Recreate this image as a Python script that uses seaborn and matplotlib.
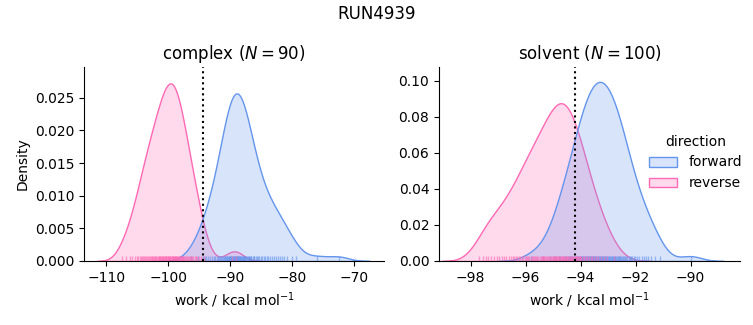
import numpy as np
import pandas as pd
import matplotlib
matplotlib.use("Agg")
import matplotlib.pyplot as plt
import seaborn as sns

complex_forward = [
    -96.4, -95.2,
    -94.4, -94.1, -93.9, -93.6,
    -93.35, -93.0, -92.65,
    -92.4, -92.2, -92.0, -91.8, -91.6,
    -91.45, -91.3, -91.2, -91.05, -90.9, -90.8, -90.65, -90.55,
    -90.45, -90.36, -90.27, -90.18, -90.09, -90.0, -89.91, -89.82, -89.73, -89.64, -89.55,
    -89.46, -89.38, -89.3, -89.22, -89.14, -89.06, -88.98, -88.9, -88.82, -88.74, -88.66, -88.58,
    -88.46, -88.37, -88.28, -88.19, -88.1, -88.01, -87.92, -87.83, -87.74, -87.65, -87.56,
    -87.4, -87.3, -87.2, -87.05, -86.95, -86.8, -86.7, -86.6,
    -86.4, -86.25, -86.1, -85.9, -85.75, -85.6,
    -85.4, -85.1, -84.85, -84.6,
    -84.4, -84.15, -83.85, -83.6,
    -83.3, -83.0, -82.7,
    -82.35, -82.0, -81.65,
    -81.3, -80.8,
    -80.1,
    -79.4,
    -76.0, -72.5,
]
complex_reverse = [
    -107.4,
    -106.8,
    -106.2, -105.8,
    -105.4, -105.1, -104.85, -104.6,
    -104.4, -104.25, -104.05, -103.9, -103.75, -103.6,
    -103.45, -103.3, -103.15, -103.0, -102.85, -102.7, -102.55,
    -102.45, -102.33, -102.2, -102.08, -101.95, -101.83, -101.7, -101.58,
    -101.46, -101.37, -101.27, -101.18, -101.08, -100.99, -100.89, -100.8, -100.7, -100.6,
    -100.47, -100.38, -100.29, -100.2, -100.11, -100.02, -99.93, -99.84, -99.75, -99.66, -99.57,
    -99.47, -99.39, -99.31, -99.23, -99.15, -99.07, -98.99, -98.91, -98.83, -98.75, -98.67, -98.59,
    -98.45, -98.35, -98.25, -98.15, -98.05, -97.95, -97.85, -97.75, -97.65, -97.55,
    -97.4, -97.25, -97.1, -96.95, -96.8, -96.65, -96.52,
    -96.35, -96.15, -95.95, -95.75, -95.55,
    -95.3, -95.0, -94.7,
    -94.2,
    -89.7, -89.0,
]
solvent_forward = [
    -95.8,
    -95.35, -95.1,
    -94.95, -94.88, -94.8, -94.73, -94.65, -94.58, -94.52,
    -94.46, -94.42, -94.38, -94.34, -94.3, -94.26, -94.22, -94.18, -94.14, -94.1, -94.06, -94.02,
    -93.98, -93.95, -93.93, -93.9, -93.87, -93.85, -93.82, -93.79, -93.77, -93.74,
    -93.71, -93.69, -93.66, -93.63, -93.61, -93.58, -93.55, -93.53, -93.51,
    -93.48, -93.46, -93.43, -93.41, -93.38, -93.36, -93.33, -93.31, -93.28, -93.26,
    -93.23, -93.21, -93.18, -93.16, -93.13, -93.11, -93.08, -93.06, -93.03, -93.01,
    -92.98, -92.95, -92.93, -92.9, -92.87, -92.84, -92.82, -92.79, -92.76, -92.73, -92.7,
    -92.68, -92.65, -92.62, -92.59, -92.57, -92.54, -92.51,
    -92.47, -92.43, -92.39, -92.34, -92.3, -92.25, -92.21, -92.16, -92.12, -92.07, -92.03,
    -91.95, -91.87, -91.78, -91.7, -91.61, -91.53,
    -91.42, -91.28, -91.12,
    -90.0,
]
solvent_reverse = [
    -97.7, -97.55,
    -97.45, -97.35, -97.25, -97.15, -97.05,
    -96.95, -96.87, -96.78, -96.7, -96.62, -96.54,
    -96.46, -96.41, -96.35, -96.3, -96.24, -96.19, -96.13, -96.08, -96.03,
    -95.98, -95.94, -95.9, -95.86, -95.82, -95.78, -95.74, -95.7, -95.66, -95.62, -95.58, -95.54,
    -95.48, -95.45, -95.42, -95.38, -95.35, -95.32, -95.28, -95.25, -95.22, -95.18, -95.15,
    -95.12, -95.08, -95.05, -95.02,
    -94.98, -94.95, -94.93, -94.9, -94.88, -94.85, -94.82, -94.8, -94.77, -94.75,
    -94.72, -94.69, -94.67, -94.64, -94.62, -94.59, -94.56, -94.54, -94.51,
    -94.48, -94.45, -94.42, -94.39, -94.36, -94.33, -94.3, -94.27, -94.24, -94.21,
    -94.18, -94.15, -94.12, -94.09, -94.06, -94.03, -94.01,
    -93.97, -93.91, -93.86, -93.8, -93.75, -93.69, -93.63, -93.58, -93.52,
    -93.45, -93.35, -93.25, -93.15, -93.05,
    -92.8,
]
phases = ["complex", "solvent"]
directions = ["forward", "reverse"]
free_energy = {"complex": -94.4, "solvent": -94.2}
run_name = "RUN4939"

# ---- build tidy table ----
groups = {
    ("complex", "forward"): complex_forward,
    ("complex", "reverse"): complex_reverse,
    ("solvent", "forward"): solvent_forward,
    ("solvent", "reverse"): solvent_reverse,
}
rows = []
for (ph, d), vals in groups.items():
    for v in vals:
        rows.append({"phase": ph, "direction": d, "work": v})
df = pd.DataFrame(rows)

palette = {"forward": "cornflowerblue", "reverse": "hotpink"}

g = sns.displot(
    data=df, x="work", hue="direction", col="phase", kind="kde",
    fill=True, rug=True, palette=palette, hue_order=directions,
    col_order=phases, facet_kws=dict(sharex=False, sharey=False),
    rug_kws=dict(alpha=0.6),
    height=3, aspect=1.2,
)
fig = g.figure
fig.set_size_inches(7.53, 3.25)
fig.set_dpi(100)

axes = g.axes.flatten()
positions = [
    [84 / 753, 1 - 261 / 325, 300 / 753, 194 / 325],
    [439 / 753, 1 - 261 / 325, 301 / 753, 194 / 325],
]
xlims = [(-113.6, -65.2), (-99.15, -88.2)]
ylims = [(0, 0.0297), (0, 0.1076)]
for ax, ph, pos, xl, yl in zip(axes, phases, positions, xlims, ylims):
    ax.set_position(pos)
    n = len(groups[(ph, "forward")])
    ax.set_title(f"{ph} ($N = {n}$)", fontsize=12)
    ax.axvline(free_energy[ph], color="black", linestyle=":", linewidth=1.5)
    ax.set_xlabel("work / kcal mol$^{-1}$")
    ax.set_xlim(*xl)
    ax.set_ylim(*yl)
axes[0].set_ylabel("Density")
axes[1].set_ylabel("")

sns.move_legend(g, loc="center left", bbox_to_anchor=(0.855, 0.5),
                frameon=False, borderaxespad=0)
fig.suptitle(run_name, fontsize=12, y=0.985)

fig.savefig("out.png", dpi=100)
